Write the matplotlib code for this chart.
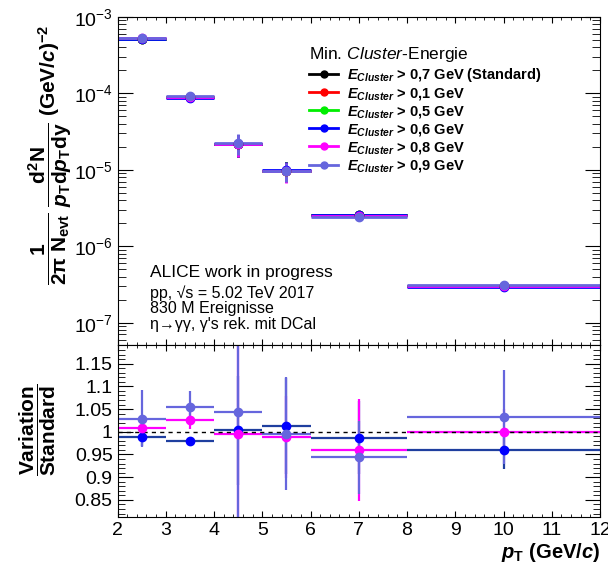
#!/usr/bin/env python
# coding: utf-8

# eta spectrum, cluster energy variation (ALICE style)

import numpy as np
import matplotlib
matplotlib.use("Agg")
import matplotlib.pyplot as plt
from matplotlib.lines import Line2D
from matplotlib.ticker import MultipleLocator, LogLocator, NullFormatter

plt.rcParams['font.family'] = ['Liberation Sans', 'DejaVu Sans']
plt.rcParams['mathtext.fontset'] = 'custom'
plt.rcParams['mathtext.rm'] = 'Liberation Sans'
plt.rcParams['mathtext.it'] = 'Liberation Sans:italic'
plt.rcParams['mathtext.bf'] = 'Liberation Sans:bold'
plt.rcParams['mathtext.bfit'] = 'Liberation Sans:italic:bold'

# pT bins
bin_lo = np.array([2, 3, 4, 5, 6, 8])
bin_hi = np.array([3, 4, 5, 6, 8, 12])
pt = np.array([2.5, 3.5, 4.5, 5.5, 7.0, 10.0])

# standard spectrum (E_cluster > 0.7 GeV)
std_val = np.array([5.23e-4, 8.87e-5, 2.17e-5, 9.7e-6, 2.57e-6, 3.03e-7])
std_err = np.array([0.15e-4, 0.05e-4, 0.70e-5, 0.28e-5, 0.20e-6, 0.30e-7])

# ratios variation / standard
ratio_06 = np.array([0.988, 0.979, 1.003, 1.0125, 0.987, 0.960])
ratio_06_err = np.array([0.020, 0.005, 0.120, 0.105, 0.080, 0.043])
ratio_08 = np.array([1.0075, 1.026, 0.996, 0.989, 0.960, 1.000])
ratio_08_err = np.array([0.015, 0.020, 0.200, 0.090, 0.113, 0.050])
ratio_09 = np.array([1.029, 1.054, 1.043, 0.996, 0.944, 1.032])
ratio_09_err = np.array([0.062, 0.035, 0.250, 0.125, 0.080, 0.104])
ratio_01 = np.array([1.0, 1.0, 1.0, 1.0, 1.0, 1.0])
ratio_05 = np.array([1.0, 1.0, 1.0, 1.0, 1.0, 1.0])

labels = [r'$\mathbfit{E}_{\mathbfit{Cluster}}$ > 0,7 GeV (Standard)',
          r'$\mathbfit{E}_{\mathbfit{Cluster}}$ > 0,1 GeV',
          r'$\mathbfit{E}_{\mathbfit{Cluster}}$ > 0,5 GeV',
          r'$\mathbfit{E}_{\mathbfit{Cluster}}$ > 0,6 GeV',
          r'$\mathbfit{E}_{\mathbfit{Cluster}}$ > 0,8 GeV',
          r'$\mathbfit{E}_{\mathbfit{Cluster}}$ > 0,9 GeV']
colors = ['black', '#ff0000', '#00ee00', '#0000ff', '#ff00ff', '#6666dd']
ratios = [np.ones(6), ratio_01, ratio_05, ratio_06, ratio_08, ratio_09]
ratio_errs = [np.zeros(6), np.zeros(6), np.zeros(6), ratio_06_err, ratio_08_err, ratio_09_err]

info_lines = ['pp, \u221As = 5.02 TeV 2017', '830 M Ereignisse',
              '\u03b7\u2192\u03b3\u03b3, \u03b3\'s rek. mit DCal']

xerr = [pt - bin_lo, bin_hi - pt]

fig = plt.figure(figsize=(6.08, 5.69), dpi=100)
W, H = 608., 569.
ax1 = fig.add_axes([117.5/W, 1-345/H, 482.5/W, 328/H])
ax2 = fig.add_axes([117.5/W, 1-516.7/H, 482.5/W, 171.7/H])

handles = []
for k in range(6):
    vals = std_val * ratios[k]
    ax1.errorbar(pt, vals, xerr=xerr, yerr=std_err, fmt='o', color=colors[k],
                 ms=6, lw=2, capsize=0)
    handles.append(Line2D([0], [0], color=colors[k], marker='o', ms=5, lw=2))

ax1.set_yscale('log')
ax1.set_xlim(2, 12)
ax1.set_ylim(5.1e-8, 1e-3)
ax1.yaxis.set_major_locator(LogLocator(base=10, numticks=10))
ax1.yaxis.set_minor_locator(LogLocator(base=10, subs=np.arange(2, 10), numticks=20))
ax1.yaxis.set_minor_formatter(NullFormatter())
ax1.xaxis.set_major_locator(MultipleLocator(1))
ax1.xaxis.set_minor_locator(MultipleLocator(0.2))
ax1.tick_params(axis='both', which='both', direction='in', top=True, right=True, labelsize=14)
ax1.tick_params(axis='y', which='major', length=11)
ax1.tick_params(axis='y', which='minor', length=5.5)
ax1.tick_params(axis='x', which='major', length=4.5, labelbottom=False)
ax1.tick_params(axis='x', which='minor', length=2.2)

leg = ax1.legend(handles, labels, loc='upper left', bbox_to_anchor=(0.397, 0.915),
                 frameon=False, prop={'weight': 'bold', 'size': 10.5},
                 title=r'Min. $\mathit{Cluster}$-Energie', title_fontsize=12.5,
                 handlelength=2.0, handletextpad=0.6, labelspacing=0.14,
                 borderpad=0, borderaxespad=0)
leg._legend_box.align = 'left'

fig.text(150/W, 1-272/H, 'ALICE work in progress', fontsize=12.5, va='center')
for yy, line in zip([293, 309, 324], info_lines):
    fig.text(150/W, 1-yy/H, line, fontsize=11.5, va='center')

fig.text(50/W, 1-155/H,
         r'$\mathbf{\dfrac{1}{2\pi\ N_{evt}}\ \dfrac{d^{2}N}{\mathbfit{p}_{T}d\mathbfit{p}_{T}dy}}$ (GeV/$\mathbfit{c}$)$^{\mathbf{-2}}$',
         rotation=90, ha='center', va='center', fontsize=15, fontweight='bold')

# ratio panel
for k in range(3, 6):
    lc = colors[k] if k != 3 else '#1f3f9f'
    ax2.errorbar(pt, ratios[k], xerr=xerr, yerr=ratio_errs[k], fmt='o', color=lc,
                 mfc=colors[k], mec=colors[k], ms=6, lw=1.6, capsize=0)
ax2.axhline(1.0, color='black', ls=(0, (3, 3)), lw=1)

ax2.set_xlim(2, 12)
ax2.set_ylim(0.813, 1.191)
ax2.xaxis.set_major_locator(MultipleLocator(1))
ax2.xaxis.set_minor_locator(MultipleLocator(0.2))
ax2.yaxis.set_minor_locator(MultipleLocator(0.01))
ax2.set_yticks([0.85, 0.9, 0.95, 1.0, 1.05, 1.1, 1.15])
ax2.set_yticklabels(['0.85', '0.9', '0.95', '1', '1.05', '1.1', '1.15'])
ax2.tick_params(axis='both', which='both', direction='in', top=True, right=True, labelsize=14)
ax2.tick_params(axis='y', which='major', length=11)
ax2.tick_params(axis='y', which='minor', length=5)
ax2.tick_params(axis='x', which='major', length=4.5, pad=4)
ax2.tick_params(axis='x', which='minor', length=2.2)

fig.text(38/W, 1-430/H, r'$\mathbf{\dfrac{Variation}{Standard}}$', rotation=90,
         ha='center', va='center', fontsize=15)
fig.text(600/W, 1-552/H, r'$\mathbfit{p}_{\mathbf{T}}$ (GeV/$\mathbfit{c}$)', ha='right', va='center',
         fontsize=14.5, fontweight='bold')

plt.savefig('out.png', dpi=100)
